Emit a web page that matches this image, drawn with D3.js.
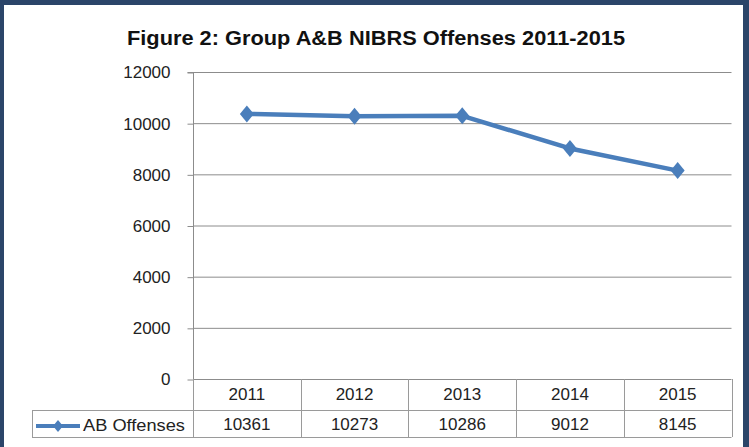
<!DOCTYPE html>
<html>
<head>
<meta charset="utf-8">
<script src="https://cdn.jsdelivr.net/npm/d3@7"></script>
<style>
  html, body { margin: 0; padding: 0; background: #fff; }
  svg { display: block; }
  text { font-family: "Liberation Sans", Arial, sans-serif; }
</style>
</head>
<body>
<svg id="chart" width="749" height="447"></svg>
<script>
const title = "Figure 2: Group A&B NIBRS Offenses 2011-2015";
const categories = ["2011", "2012", "2013", "2014", "2015"];
const seriesName = "AB Offenses";
const values = [10361, 10273, 10286, 9012, 8145];
const yTicks = [0, 2000, 4000, 6000, 8000, 10000, 12000];

(function () {
const svg = d3.select("#chart");
const W = 749, H = 447;
const lineColor = "#4a7ebb";
const gridColor = "#8c8c8c";
const tableColor = "#9a9a9a";

svg.append("rect").attr("width", W).attr("height", H).attr("fill", "#fff");

// frame
const frame = "#2b4569";
svg.append("rect").attr("x", 0).attr("y", 0).attr("width", W).attr("height", 5).attr("fill", frame);
svg.append("rect").attr("x", 0).attr("y", 0).attr("width", 4).attr("height", H).attr("fill", frame);
svg.append("rect").attr("x", 743).attr("y", 0).attr("width", 6).attr("height", H).attr("fill", frame);

// title
svg.append("text")
  .attr("x", 376).attr("y", 45)
  .attr("text-anchor", "middle")
  .attr("font-size", 20).attr("font-weight", "bold").attr("fill", "#111")
  .attr("textLength", 498).attr("lengthAdjust", "spacingAndGlyphs")
  .text(title);

const pLeft = 193, pRight = 731.5, pTop = 72, pBottom = 379;
const x = d3.scaleBand().domain(categories).range([pLeft, pRight]);
const y = d3.scaleLinear().domain([0, 12000]).range([pBottom, pTop]);

// gridlines
svg.append("g").selectAll("line").data(yTicks).join("line")
  .attr("x1", pLeft).attr("x2", pRight)
  .attr("y1", d => y(d) + 0.5).attr("y2", d => y(d) + 0.5)
  .attr("stroke", gridColor).attr("stroke-width", 1);

// y axis
const yAxis = d3.axisLeft(y).tickValues(yTicks).tickSize(6).tickPadding(17).tickFormat(d3.format("d"));
const gy = svg.append("g").attr("transform", `translate(${pLeft + 0.5},0.5)`).call(yAxis);
gy.select(".domain").attr("stroke", gridColor).attr("d", `M-6,${y(12000)}H0V${pBottom}`);
gy.selectAll(".tick line").attr("stroke", gridColor);
gy.selectAll(".tick text").attr("font-size", 17).attr("fill", "#222")
  .attr("font-family", "'Liberation Sans', Arial, sans-serif");

// data table
const rowTop = pBottom, rowMid = 410, rowBot = 437, tableLeft = 32;
const tg = svg.append("g").attr("stroke", tableColor).attr("stroke-width", 1);
const edges = categories.map(c => x(c)).concat([pRight]);
tg.selectAll("line.v").data(edges).join("line")
  .attr("x1", d => Math.round(d) + 0.5).attr("x2", d => Math.round(d) + 0.5)
  .attr("y1", rowTop).attr("y2", rowBot);
tg.append("line").attr("x1", tableLeft + 0.5).attr("x2", tableLeft + 0.5).attr("y1", rowMid).attr("y2", rowBot);
tg.append("line").attr("x1", tableLeft).attr("x2", pRight).attr("y1", rowMid + 0.5).attr("y2", rowMid + 0.5);
tg.append("line").attr("x1", tableLeft).attr("x2", pRight).attr("y1", rowBot + 0.5).attr("y2", rowBot + 0.5);

svg.append("g").selectAll("text").data(categories).join("text")
  .attr("x", d => x(d) + x.bandwidth() / 2).attr("y", 400)
  .attr("text-anchor", "middle").attr("font-size", 17).attr("fill", "#222")
  .text(d => d);
svg.append("g").selectAll("text").data(values).join("text")
  .attr("x", (d, i) => x(categories[i]) + x.bandwidth() / 2).attr("y", 430)
  .attr("text-anchor", "middle").attr("font-size", 17).attr("fill", "#222")
  .text(d => d);

// diamond marker path (slightly taller than wide)
const diamond = (w, h) => `M0,${-h / 2}L${w / 2},0L0,${h / 2}L${-w / 2},0Z`;

// legend key in table
svg.append("line").attr("x1", 36).attr("x2", 80).attr("y1", 426).attr("y2", 426)
  .attr("stroke", lineColor).attr("stroke-width", 4);
svg.append("path").attr("d", diamond(10, 12))
  .attr("transform", "translate(58,426)").attr("fill", lineColor);
svg.append("text").attr("x", 83).attr("y", 431).attr("font-size", 17).attr("fill", "#222")
  .attr("textLength", 102).attr("lengthAdjust", "spacingAndGlyphs")
  .text(seriesName);

// line
const pts = values.map((v, i) => [x(categories[i]) + x.bandwidth() / 2, y(v)]);
svg.append("path").datum(pts)
  .attr("d", d3.line())
  .attr("fill", "none").attr("stroke", lineColor).attr("stroke-width", 4.5)
  .attr("stroke-linejoin", "round");
svg.append("g").selectAll("path").data(pts).join("path")
  .attr("d", diamond(14, 17))
  .attr("transform", d => `translate(${d[0]},${d[1]})`)
  .attr("fill", lineColor);
})();
</script>
</body>
</html>
